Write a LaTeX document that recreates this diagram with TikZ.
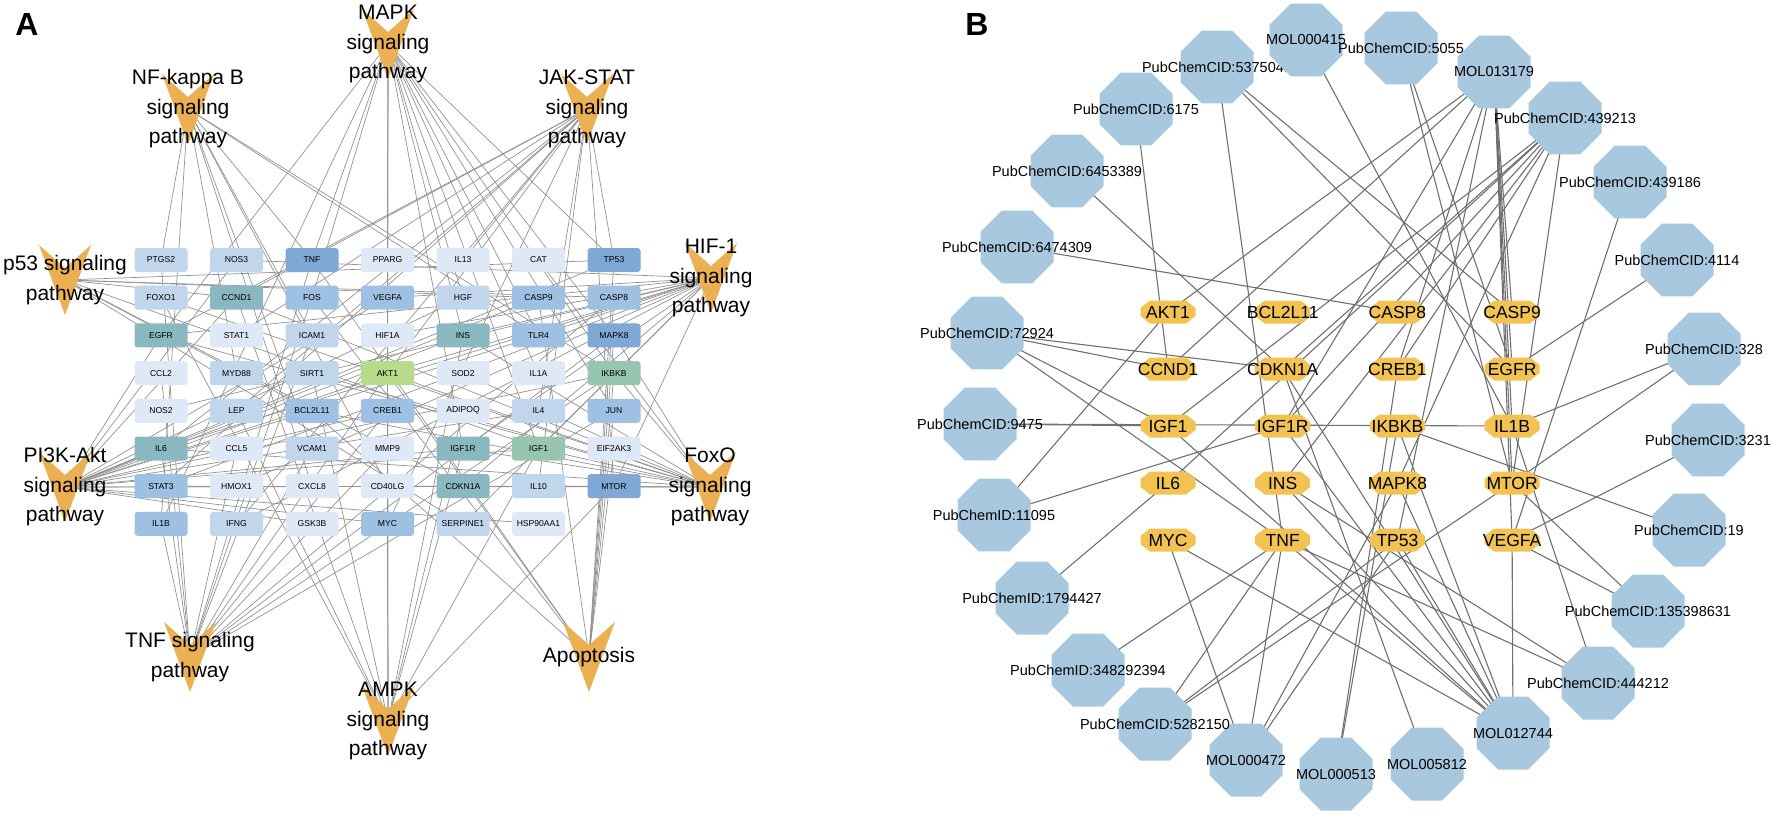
\documentclass[tikz,border=0pt]{standalone}
\usepackage{fontspec}
\setmainfont{Liberation Sans}
\usetikzlibrary{shapes.geometric,backgrounds}

\definecolor{gvl}{HTML}{DFE8F6}
\definecolor{gl}{HTML}{C1D6EC}
\definecolor{gm}{HTML}{9EC0E2}
\definecolor{gd}{HTML}{7FA8D4}
\definecolor{gt}{HTML}{8AB8C1}
\definecolor{gs}{HTML}{98C5AF}
\definecolor{gg}{HTML}{B8DB8B}
\definecolor{vcol}{HTML}{EBB052}
\definecolor{ocol}{HTML}{F2C352}
\definecolor{ccol}{HTML}{A8C8E0}
\definecolor{edgeA}{HTML}{929292}
\definecolor{edgeB}{HTML}{707070}

\newcommand\ppc[2]{([shift={(#1,#2)}]path picture bounding box.center)}

\tikzset{
  gbox/.style={rectangle, rounded corners=3pt, minimum width=53pt, minimum height=24pt,
    inner sep=0pt, font=\fontsize{8.6}{10}\selectfont},
  pw/.style={align=center, inner sep=0pt, minimum width=54pt, minimum height=72pt,
    font=\fontsize{21}{29.5}\selectfont,
    path picture={\fill[vcol] \ppc{-26}{-35} -- \ppc{0}{-12} -- \ppc{26}{-35} -- \ppc{0}{35} -- cycle;}},
  tgt/.style={rectangle, inner sep=0pt, minimum width=56pt, minimum height=24pt,
    font=\fontsize{17.5}{18}\selectfont,
    path picture={\fill[ocol] \ppc{-27.5}{-4} -- \ppc{-18}{-11.5} -- \ppc{18}{-11.5} -- \ppc{27.5}{-4}
      -- \ppc{27.5}{4} -- \ppc{18}{11.5} -- \ppc{-18}{11.5} -- \ppc{-27.5}{4} -- cycle;}},
  cpd/.style={regular polygon, regular polygon sides=8, minimum size=79pt, inner sep=0pt, fill=ccol},
  clab/.style={font=\fontsize{14.5}{16}\selectfont, inner sep=0pt},
  ea/.style={draw=edgeA, line width=0.7pt},
  eb/.style={draw=edgeB, line width=1.1pt},
  panel/.style={font=\bfseries\fontsize{32}{32}\selectfont, inner sep=0pt}
}

\begin{document}
\begin{tikzpicture}[x=1pt,y=-1pt]
\useasboundingbox (0,0) rectangle (1772,814);

\node[panel] (labA) at (27,24) {A};
\node[panel] (labB) at (977,24) {B};

% panel A: gene grid
\foreach \g/\c [count=\i from 0] in {
  PTGS2/gl, NOS3/gl, TNF/gd, PPARG/gvl, IL13/gvl, CAT/gvl, TP53/gd,
  FOXO1/gl, CCND1/gt, FOS/gm, VEGFA/gm, HGF/gl, CASP9/gm, CASP8/gm,
  EGFR/gt, STAT1/gvl, ICAM1/gl, HIF1A/gvl, INS/gt, TLR4/gm, MAPK8/gd,
  CCL2/gvl, MYD88/gl, SIRT1/gl, AKT1/gg, SOD2/gvl, IL1A/gvl, IKBKB/gs,
  NOS2/gvl, LEP/gl, BCL2L11/gm, CREB1/gm, ADIPOQ/gvl, IL4/gl, JUN/gm,
  IL6/gt, CCL5/gvl, VCAM1/gl, MMP9/gvl, IGF1R/gt, IGF1/gs, EIF2AK3/gvl,
  STAT3/gm, HMOX1/gvl, CXCL8/gvl, CD40LG/gvl, CDKN1A/gt, IL10/gl, MTOR/gd,
  IL1B/gm, IFNG/gl, GSK3B/gvl, MYC/gm, SERPINE1/gl, HSP90AA1/gvl}{
  \pgfmathtruncatemacro\cc{mod(\i,7)}
  \pgfmathtruncatemacro\rr{div(\i,7)}
  \node[gbox, fill=\c] (a\g) at (161+75.5*\cc, 260+37.7*\rr) {\g};
}

% panel A: pathways
\node[pw] (pMAPK) at (388,44) {MAPK\\signaling\\pathway};
\node[pw] (pNFKB) at (188,109) {NF-kappa B\\signaling\\pathway};
\node[pw] (pJAK) at (587,109) {JAK-STAT\\signaling\\pathway};
\node[pw] (pP53) at (65,280) {p53 signaling\\pathway};
\node[pw] (pHIF) at (711,278) {HIF-1\\signaling\\pathway};
\node[pw] (pPI3K) at (65,487) {PI3K-Akt\\signaling\\pathway};
\node[pw] (pFOXO) at (710,487) {FoxO\\signaling\\pathway};
\node[pw] (pTNF) at (190,657) {TNF signaling\\pathway};
\node[pw] (pAMPK) at (388,721) {AMPK\\signaling\\pathway};
\node[pw] (pAPO) at (589,657) {Apoptosis};

\begin{scope}[on background layer]
\foreach \p/\gs in {
  pMAPK/{TNF,FOS,VEGFA,HGF,EGFR,INS,TLR4,MAPK8,IKBKB,IL1A,JUN,IGF1R,IGF1,IL1B,MYC,TP53,AKT1},
  pNFKB/{PTGS2,TNF,ICAM1,VCAM1,CXCL8,MYD88,TLR4,IKBKB,CD40LG,IL1B},
  pJAK/{IL6,STAT1,STAT3,IL13,IL4,IL10,IFNG,LEP,MYC,CCND1,EGFR,AKT1,MTOR,TP53},
  pP53/{TP53,CDKN1A,CCND1,CASP9,CASP8,SERPINE1,IGF1,BCL2L11},
  pHIF/{HIF1A,VEGFA,EGFR,INS,IGF1,IGF1R,AKT1,MTOR,NOS2,NOS3,HMOX1,IL6,IFNG,TLR4,SERPINE1,CDKN1A,STAT3},
  pPI3K/{AKT1,IL6,EGFR,VEGFA,HGF,INS,IGF1,IGF1R,TLR4,MTOR,CCND1,CDKN1A,MYC,TP53,CASP9,BCL2L11,CREB1,GSK3B,NOS3,IL4,HSP90AA1,IKBKB},
  pFOXO/{FOXO1,AKT1,INS,IGF1,IGF1R,EGFR,CCND1,CDKN1A,MAPK8,IKBKB,SIRT1,BCL2L11,IL6,IL10,STAT3,SOD2,CAT},
  pTNF/{TNF,IL6,IL1B,PTGS2,ICAM1,VCAM1,CCL2,CCL5,MMP9,FOS,JUN,MAPK8,IKBKB,CASP8,CREB1,AKT1},
  pAMPK/{AKT1,MTOR,SIRT1,FOXO1,PPARG,LEP,ADIPOQ,INS,IGF1,IGF1R,CCND1,CREB1},
  pAPO/{TNF,CASP8,CASP9,TP53,BCL2L11,AKT1,IKBKB,MAPK8,JUN,FOS,EIF2AK3}}{
  \foreach \g in \gs
    \draw[ea] (\p.center) -- (a\g.center);
}
\end{scope}

% panel B: targets
\foreach \g [count=\i from 0] in {AKT1,CCND1,IGF1,IL6,MYC,BCL2L11,CDKN1A,IGF1R,INS,TNF,
  CASP8,CREB1,IKBKB,MAPK8,TP53,CASP9,EGFR,IL1B,MTOR,VEGFA}{
  \pgfmathtruncatemacro\cc{div(\i,5)}
  \pgfmathtruncatemacro\rr{mod(\i,5)}
  \node[tgt] (b\g) at (1168+114.7*\cc, 312+57*\rr) {\g};
}

% panel B: compounds
\foreach \n/\x/\y/\t in {
  c5375048/1217/67/PubChemCID:5375048, c415/1306/40/MOL000415,
  c5055/1401/48/PubChemCID:5055, c13179/1494/72/MOL013179,
  c439213/1565/118/PubChemCID:439213, c439186/1630/182/PubChemCID:439186,
  c4114/1677/260/PubChemCID:4114, c328/1704/349/PubChemCID:328,
  c3231/1708/440/PubChemCID:3231, c19/1689/530/PubChemCID:19,
  c135398631/1648/611/PubChemCID:135398631, c444212/1598/683/PubChemCID:444212,
  c12744/1513/733/MOL012744, c5812/1427/764/MOL005812,
  c513/1336/774/MOL000513, c472/1246/760/MOL000472,
  c5282150/1155/724/PubChemCID:5282150, c348292394/1088/670/PubChemID:348292394,
  c1794427/1032/598/PubChemID:1794427, c11095/994/515/PubChemID:11095,
  c9475/980/424/PubChemCID:9475, c72924/987/333/PubChemCID:72924,
  c6474309/1017/247/PubChemCID:6474309, c6453389/1067/171/PubChemCID:6453389,
  c6175/1136/109/PubChemCID:6175}{
  \node[cpd, label={[clab]center:{\t}}] (\n) at (\x,\y) {};
}

\begin{scope}[on background layer]
\foreach \c/\gs in {
  c6175/{CCND1}, c5375048/{TNF,EGFR,CASP9}, c415/{IL1B}, c5055/{EGFR,MTOR},
  c13179/{AKT1,CCND1,IGF1R,CREB1,TP53,CASP9,EGFR,IL1B,MTOR,VEGFA},
  c439213/{IGF1,IL6,IGF1R,INS,CDKN1A,MAPK8,MTOR,CREB1},
  c439186/{VEGFA}, c4114/{EGFR}, c328/{IL1B,MTOR}, c3231/{VEGFA}, c19/{IKBKB},
  c135398631/{VEGFA,MTOR}, c444212/{IL1B,TNF,INS},
  c12744/{VEGFA,TP53,MAPK8,IKBKB,INS,IGF1R,IGF1,CDKN1A,TNF,MYC},
  c5812/{CDKN1A}, c513/{IKBKB,CREB1}, c472/{MYC,TNF,TP53,MAPK8},
  c5282150/{TNF,TP53,MTOR}, c348292394/{TNF}, c1794427/{IL6}, c11095/{AKT1,IGF1R},
  c9475/{IGF1,IL1B}, c72924/{CCND1,IGF1,TNF,CDKN1A}, c6474309/{CASP8}, c6453389/{CDKN1A}}{
  \foreach \g in \gs
    \draw[eb] (\c.center) -- (b\g.center);
}
\end{scope}

\end{tikzpicture}
\end{document}
